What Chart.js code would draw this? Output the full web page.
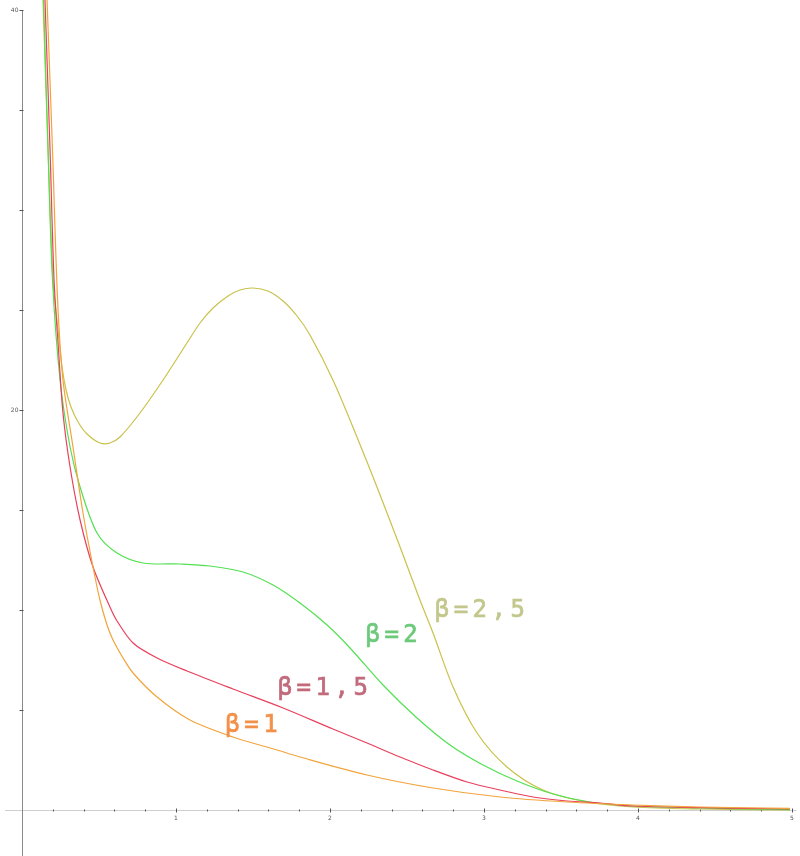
<!DOCTYPE html>
<html>
<head>
<meta charset="utf-8">
<script src="https://cdn.jsdelivr.net/npm/chart.js@4.4.1/dist/chart.umd.min.js"></script>
<style>
  html, body { margin: 0; padding: 0; background: #fff; }
  #beta-chart { display: block; }
</style>
</head>
<body>
<canvas id="beta-chart" width="800" height="856"></canvas>
<script>
// curve samples, one x/y pair of arrays per beta
const betaOneX = [0.160, 0.198, 0.231, 0.266, 0.331, 0.396, 0.461, 0.506, 0.552, 0.591, 0.656, 0.721, 0.877, 1.091, 1.370, 1.656, 1.805, 2.240, 2.669, 3.104, 3.539, 3.968, 4.403, 4.987];
const betaOneY = [41.0, 33.0, 25.5, 21.5, 18.15, 14.85, 12.15, 10.5, 9.25, 8.5, 7.6, 6.85, 5.65, 4.5, 3.65, 3.0, 2.65, 1.75, 1.1, 0.65, 0.4, 0.25, 0.15, 0.08];

const betaOneHalfX = [0.147, 0.182, 0.208, 0.237, 0.266, 0.312, 0.377, 0.461, 0.571, 0.617, 0.721, 0.877, 1.071, 1.370, 1.695, 2.019, 2.240, 2.455, 2.669, 2.890, 3.104, 3.318, 3.539, 3.753, 3.968, 4.403, 4.987];
const betaOneHalfY = [41.0, 33.0, 26.5, 23.0, 19.85, 17.15, 14.5, 12.15, 10.15, 9.45, 8.35, 7.6, 6.95, 6.05, 5.1, 4.05, 3.35, 2.65, 2.0, 1.4, 1.0, 0.65, 0.45, 0.35, 0.2, 0.12, 0.05];

const betaTwoX = [0.138, 0.169, 0.198, 0.247, 0.312, 0.377, 0.487, 0.617, 0.786, 1.026, 1.221, 1.435, 1.630, 1.805, 1.981, 2.130, 2.344, 2.565, 2.779, 2.994, 3.214, 3.448, 3.688, 3.968, 4.403, 4.987];
const betaTwoY = [41.0, 33.0, 26.5, 21.5, 18.15, 16.15, 13.85, 12.85, 12.35, 12.3, 12.2, 11.9, 11.25, 10.35, 9.25, 8.1, 6.25, 4.6, 3.25, 2.25, 1.45, 0.8, 0.4, 0.2, 0.1, 0.02];

const betaTwoHalfX = [0.134, 0.169, 0.201, 0.234, 0.260, 0.286, 0.318, 0.364, 0.422, 0.506, 0.571, 0.636, 0.766, 0.916, 1.071, 1.156, 1.240, 1.338, 1.416, 1.500, 1.597, 1.695, 1.786, 1.870, 2.019, 2.175, 2.305, 2.455, 2.584, 2.669, 2.799, 2.955, 3.149, 3.383, 3.669, 3.968, 4.403, 4.987];
const betaTwoHalfY = [41.0, 33.0, 26.5, 24.0, 22.15, 21.0, 20.15, 19.4, 18.8, 18.35, 18.35, 18.65, 19.85, 21.5, 23.35, 24.35, 25.1, 25.7, 26.0, 26.1, 25.95, 25.45, 24.7, 23.75, 21.5, 18.65, 16.15, 13.15, 10.5, 8.85, 6.15, 3.85, 2.15, 1.0, 0.4, 0.15, 0.05, 0.0];

// axis ticks
const xTickValues = [0.2, 0.4, 0.6, 0.8, 1, 1.2, 1.4, 1.6, 1.8, 2, 2.2, 2.4, 2.6, 2.8, 3, 3.2, 3.4, 3.6, 3.8, 4, 4.2, 4.4, 4.6, 4.8, 5];
const xTickLabels = ['1', '2', '3', '4', '5'];
const yTickValues = [5, 10, 15, 20, 25, 30, 35, 40];
const yTickLabels = ['20', '40'];

// curve captions
const captionTexts = ['β=2,5', 'β=2', 'β=1,5', 'β=1'];
const captionColors = ['#c3c78c', '#6dc97b', '#c26a7b', '#f2914a'];

function toPoints(xs, ys) {
    return xs.map((x, i) => ({ x: x, y: ys[i] }));
}

function curve(label, xs, ys, color) {
    return {
        label: label,
        data: toPoints(xs, ys),
        borderColor: color,
        borderWidth: 1.2,
        pointRadius: 0,
        fill: false,
        tension: 0.3
    };
}

// hand drawn axes: y axis at x=0, x axis at y=0, tiny labels
const crossAxes = {
    id: 'crossAxes',
    beforeDatasetsDraw(chart) {
        const ctx = chart.ctx;
        const xs = chart.scales.x;
        const ys = chart.scales.y;
        const x0 = Math.round(xs.getPixelForValue(0)) + 0.5;
        const y0 = Math.round(ys.getPixelForValue(0)) + 0.5;
        ctx.save();

        ctx.strokeStyle = '#cfcfcf';
        ctx.lineWidth = 1;
        ctx.beginPath();
        ctx.moveTo(xs.getPixelForValue(-0.11), y0);
        ctx.lineTo(xs.getPixelForValue(5.03), y0);
        ctx.stroke();

        ctx.strokeStyle = '#8a8a8a';
        ctx.beginPath();
        ctx.moveTo(x0, ys.getPixelForValue(40));
        ctx.lineTo(x0, chart.height);
        ctx.stroke();

        ctx.strokeStyle = '#555';
        xTickValues.forEach(v => {
            const px = Math.round(xs.getPixelForValue(v)) + 0.5;
            const big = Number.isInteger(v);
            ctx.beginPath();
            ctx.moveTo(px, y0 - (big ? 2 : 1));
            ctx.lineTo(px, y0 + (big ? 2 : 1));
            ctx.stroke();
        });
        yTickValues.forEach(v => {
            const py = Math.round(ys.getPixelForValue(v)) + 0.5;
            ctx.beginPath();
            ctx.moveTo(x0 - 3, py);
            ctx.lineTo(x0 + 1, py);
            ctx.stroke();
        });

        ctx.fillStyle = '#555';
        ctx.font = '6px "DejaVu Sans"';
        ctx.textAlign = 'center';
        ctx.textBaseline = 'top';
        xTickLabels.forEach(t => {
            ctx.fillText(t, xs.getPixelForValue(Number(t)), y0 + 5);
        });
        ctx.textAlign = 'right';
        ctx.textBaseline = 'middle';
        yTickLabels.forEach(t => {
            ctx.fillText(t, x0 - 4, ys.getPixelForValue(Number(t)));
        });
        ctx.restore();
    }
};

// the beta captions sit beside their curves, anchored in data units
const captionAnchors = [[2.68, 9.65], [2.23, 8.4], [1.66, 5.75], [1.32, 3.9]];
const curveCaptions = {
    id: 'curveCaptions',
    afterDatasetsDraw(chart) {
        const ctx = chart.ctx;
        ctx.save();
        ctx.font = '24px "DejaVu Sans Mono"';
        ctx.letterSpacing = '4.5px';
        ctx.textAlign = 'left';
        ctx.textBaseline = 'alphabetic';
        ctx.lineWidth = 0.7;
        captionTexts.forEach((t, i) => {
            const px = chart.scales.x.getPixelForValue(captionAnchors[i][0]);
            const py = chart.scales.y.getPixelForValue(captionAnchors[i][1]);
            ctx.fillStyle = captionColors[i];
            ctx.strokeStyle = captionColors[i];
            ctx.fillText(t, px, py);
            ctx.strokeText(t, px, py);
        });
        ctx.restore();
    }
};

let ctx = document.getElementById('beta-chart');
new Chart(ctx, {
    type: 'line',
    data: {
        datasets: [
            curve('β=1', betaOneX, betaOneY, '#f2a43c'),
            curve('β=1,5', betaOneHalfX, betaOneHalfY, '#e8405c'),
            curve('β=2', betaTwoX, betaTwoY, '#52e052'),
            curve('β=2,5', betaTwoHalfX, betaTwoHalfY, '#c9c24a')
        ]
    },
    options: {
        responsive: false,
        animation: false,
        layout: { padding: 0 },
        plugins: {
            legend: { display: false },
            tooltip: { enabled: false }
        },
        scales: {
            x: { type: 'linear', min: -0.143, max: 5.052, display: false },
            y: { type: 'linear', min: -2.3, max: 40.5, display: false }
        }
    },
    plugins: [crossAxes, curveCaptions]
});
</script>
</body>
</html>
